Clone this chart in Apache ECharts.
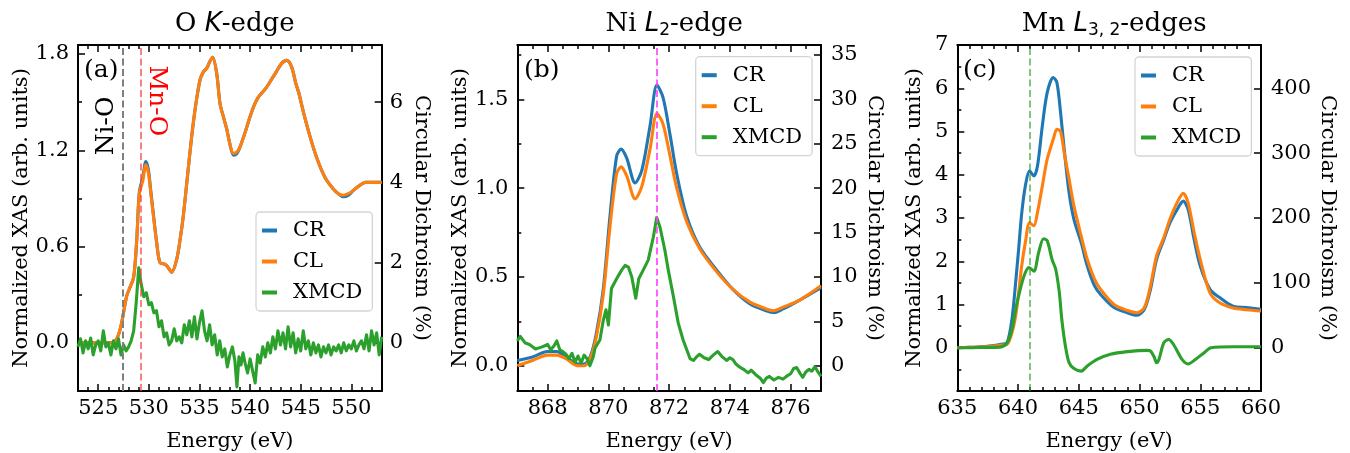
<!DOCTYPE html>
<html><head><meta charset="utf-8">
<script src="https://cdn.jsdelivr.net/npm/echarts@6/dist/echarts.min.js"></script>
<style>html,body{margin:0;padding:0;background:#fff}#c{width:1350px;height:453px}</style>
</head><body><div id="c"></div>
<script>
// ---------------- DATA ----------------
const seriesNames = ['CR', 'CL', 'XMCD'];
const panelTitles = ['O K-edge', 'Ni L2-edge', 'Mn L3,2-edges'];
const panelLetters = ['(a)', '(b)', '(c)'];

// Panel (a) O K-edge
const energyA = [523, 524, 525, 526, 526.65, 527.0, 527.3, 527.8, 528.1, 528.5, 528.8, 529.06, 529.4, 529.7, 529.95, 530.2, 530.45, 530.8, 531.1, 531.6, 531.9, 532.26, 532.75, 533.1, 533.4, 533.8, 534.2, 534.6, 535.06, 535.4, 535.7, 536.0, 536.3, 536.7, 537.03, 537.4, 537.7, 538.0, 538.35, 538.7, 539.0, 539.5, 540.0, 540.4, 540.8, 541.2, 541.6, 542.1, 542.6, 543.1, 543.6, 544.1, 544.5, 544.8, 545.3, 545.9, 546.6, 547.4, 548.2, 548.7, 549.2, 549.7, 550.2, 550.8, 551.4, 552.0, 553.0];
const crA = [0.00, 0.00, 0.00, 0.00, 0.01, 0.05, 0.12, 0.29, 0.34, 0.41, 0.64, 0.94, 1.03, 1.13, 1.08, 0.94, 0.80, 0.61, 0.50, 0.49, 0.47, 0.44, 0.52, 0.65, 0.79, 1.03, 1.27, 1.47, 1.64, 1.69, 1.71, 1.75, 1.78, 1.68, 1.49, 1.40, 1.33, 1.24, 1.17, 1.18, 1.22, 1.31, 1.41, 1.48, 1.53, 1.56, 1.59, 1.64, 1.69, 1.74, 1.76, 1.72, 1.62, 1.56, 1.43, 1.29, 1.15, 1.03, 0.96, 0.93, 0.91, 0.92, 0.95, 0.98, 1.00, 1.00, 1.00];
const clA = [0.00, 0.00, 0.00, 0.00, 0.01, 0.05, 0.12, 0.29, 0.34, 0.41, 0.64, 0.93, 1.01, 1.11, 1.06, 0.93, 0.79, 0.61, 0.50, 0.49, 0.47, 0.44, 0.52, 0.65, 0.79, 1.03, 1.27, 1.47, 1.64, 1.69, 1.71, 1.75, 1.78, 1.68, 1.49, 1.40, 1.33, 1.24, 1.18, 1.19, 1.22, 1.31, 1.41, 1.48, 1.53, 1.56, 1.59, 1.64, 1.69, 1.74, 1.76, 1.72, 1.62, 1.56, 1.43, 1.29, 1.15, 1.03, 0.96, 0.93, 0.92, 0.93, 0.95, 0.98, 1.00, 1.00, 1.00];
const xmcdA = [[523.0,-0.10],[523.25,0.10],[523.5,-0.25],[523.75,0.05],[524.0,-0.15],[524.25,0.12],[524.5,-0.30],[524.75,-0.05],[525.0,0.05],[525.25,-0.20],[525.5,0.30],[525.75,-0.10],[526.0,0.00],[526.25,-0.30],[526.5,0.05],[526.75,-0.15],[527.0,0.10],[527.25,-0.30],[527.5,-0.05],[527.75,-0.20],[528.0,-0.10],[528.25,0.05],[528.5,0.30],[528.75,1.00],[529.0,1.87],[529.25,1.45],[529.5,1.15],[529.75,1.25],[530.0,0.95],[530.25,1.00],[530.5,0.75],[530.75,0.80],[531.0,0.40],[531.25,0.55],[531.5,0.15],[531.75,0.25],[532.0,-0.05],[532.25,0.05],[532.5,0.35],[532.75,0.05],[533.0,0.15],[533.25,0.00],[533.5,0.45],[533.75,0.20],[534.0,0.55],[534.25,0.15],[534.5,0.65],[534.75,0.10],[535.0,0.50],[535.25,0.80],[535.5,0.30],[535.75,0.05],[536.0,0.45],[536.25,-0.05],[536.5,0.20],[536.75,-0.30],[537.0,0.05],[537.25,-0.35],[537.5,-0.15],[537.75,-0.60],[538.0,-0.30],[538.25,-0.10],[538.5,-0.45],[538.7,-1.10],[538.9,-0.35],[539.1,-0.55],[539.3,-0.25],[539.5,-0.50],[539.75,-0.75],[540.0,-0.40],[540.25,-0.70],[540.5,-1.00],[540.75,-0.30],[541.0,-0.50],[541.25,-0.10],[541.5,-0.35],[541.75,0.00],[542.0,-0.25],[542.25,0.15],[542.5,-0.15],[542.75,0.30],[543.0,-0.05],[543.25,0.25],[543.5,-0.15],[543.75,0.40],[544.0,-0.10],[544.25,0.25],[544.5,-0.25],[544.75,0.10],[545.0,-0.20],[545.25,0.30],[545.5,-0.15],[545.75,0.05],[546.0,-0.30],[546.25,0.00],[546.5,-0.25],[546.75,-0.05],[547.0,-0.35],[547.25,-0.10],[547.5,-0.25],[547.75,-0.05],[548.0,-0.30],[548.25,-0.10],[548.5,-0.20],[548.75,-0.05],[549.0,-0.25],[549.25,0.00],[549.5,-0.20],[549.75,-0.05],[550.0,-0.15],[550.25,0.05],[550.5,-0.20],[550.75,-0.05],[551.0,0.05],[551.25,-0.15],[551.5,0.20],[551.75,-0.20],[552.0,0.30],[552.25,-0.05],[552.5,0.25],[552.75,-0.30],[553.0,0.15]];
const xTicksA = [525, 530, 535, 540, 545, 550];
const yTicksA = [0, 0.6, 1.2, 1.8];
const rTicksA = [0, 2, 4, 6];
const vlinesA = [527.4, 529.2];
const annotA = [{text: 'Ni-O', x: 525.84, y: 1.352}, {text: 'Mn-O', x: 530.78, y: 1.508}];

// Panel (b) Ni L2-edge
const energyB = [867.0, 867.5, 868.0, 868.3, 868.6, 869.0, 869.2, 869.4, 869.6, 869.83, 870.05, 870.27, 870.42, 870.6, 870.88, 871.1, 871.37, 871.6, 871.8, 872.03, 872.25, 872.58, 873.0, 873.56, 874.1, 874.65, 875.2, 875.45, 875.75, 876.3, 877.0];
const crB = [0.03, 0.05, 0.08, 0.08, 0.05, 0.01, 0.01, 0.05, 0.18, 0.43, 0.84, 1.18, 1.22, 1.17, 1.03, 1.10, 1.35, 1.58, 1.51, 1.30, 1.08, 0.84, 0.67, 0.54, 0.43, 0.35, 0.31, 0.30, 0.32, 0.37, 0.44];
const clB = [0.00, 0.03, 0.06, 0.06, 0.04, 0.00, 0.00, 0.04, 0.16, 0.40, 0.78, 1.08, 1.12, 1.07, 0.94, 1.01, 1.22, 1.42, 1.36, 1.18, 1.00, 0.81, 0.66, 0.53, 0.43, 0.36, 0.32, 0.31, 0.33, 0.37, 0.45];
const xmcdB = [[867.0,2.8],[867.1,3.3],[867.25,2.6],[867.4,2.4],[867.6,1.9],[867.8,2.1],[868.0,2.4],[868.1,1.8],[868.2,2.2],[868.3,2.8],[868.4,1.8],[868.5,1.6],[868.6,1.3],[868.7,0.8],[868.8,1.4],[868.9,0.4],[869.0,1.1],[869.1,0.3],[869.2,1.2],[869.3,0.8],[869.39,0.0],[869.5,1.0],[869.56,2.0],[869.72,2.9],[869.83,5.1],[869.92,6.3],[870.0,4.6],[870.1,8.7],[870.27,9.8],[870.44,10.8],[870.55,11.3],[870.66,11.1],[870.77,10.0],[870.9,7.6],[871.0,9.8],[871.15,10.8],[871.31,11.9],[871.48,14.5],[871.59,16.7],[871.7,15.6],[871.86,13.0],[871.97,10.8],[872.14,7.8],[872.3,4.8],[872.46,2.9],[872.58,1.8],[872.69,0.8],[872.8,0.6],[872.9,1.0],[873.0,1.3],[873.15,0.9],[873.3,0.7],[873.45,1.2],[873.6,1.6],[873.75,1.0],[873.9,0.6],[874.0,0.9],[874.1,0.7],[874.2,0.2],[874.3,-0.1],[874.45,-0.4],[874.6,-0.8],[874.7,-0.5],[874.85,-1.0],[875.0,-1.4],[875.1,-1.9],[875.2,-1.4],[875.3,-1.2],[875.45,-1.6],[875.6,-1.3],[875.75,-1.5],[875.9,-1.1],[876.0,-0.9],[876.1,-0.3],[876.2,-0.2],[876.3,-0.8],[876.4,-1.3],[876.5,-0.7],[876.6,-0.4],[876.7,-0.6],[876.8,-0.1],[876.9,-0.7],[877.0,-1.2]];
const xTicksB = [868, 870, 872, 874, 876];
const yTicksB = [0, 0.5, 1.0, 1.5];
const rTicksB = [0, 5, 10, 15, 20, 25, 30, 35];
const vlinesB = [871.6];

// Panel (c) Mn L3,2-edges
const energyC = [635, 636, 637, 638, 638.6, 639.1, 639.5, 639.8, 640.05, 640.3, 640.6, 640.95, 641.3, 641.6, 642.0, 642.4, 642.9, 643.2, 643.5, 643.8, 644.2, 644.6, 645.2, 645.7, 646.3, 646.8, 647.9, 649.0, 649.8, 650.4, 650.9, 651.4, 652.0, 652.5, 653.1, 653.6, 654.0, 654.5, 655.0, 655.8, 656.6, 657.7, 658.8, 660];
const crC = [0.00, 0.01, 0.02, 0.05, 0.08, 0.12, 0.66, 1.50, 2.28, 3.10, 3.74, 4.09, 3.97, 4.20, 5.13, 5.90, 6.25, 6.13, 5.44, 4.59, 3.59, 2.97, 2.43, 1.89, 1.43, 1.23, 0.93, 0.81, 0.75, 0.89, 1.35, 2.04, 2.50, 2.89, 3.20, 3.39, 3.20, 2.50, 1.89, 1.35, 1.16, 0.96, 0.93, 0.89];
const clC = [0.00, 0.01, 0.02, 0.04, 0.06, 0.08, 0.35, 0.73, 1.27, 1.89, 2.43, 2.89, 2.82, 3.13, 3.74, 4.36, 4.82, 5.05, 5.00, 4.51, 3.90, 3.28, 2.58, 2.04, 1.58, 1.35, 1.00, 0.86, 0.81, 0.93, 1.43, 2.12, 2.55, 2.97, 3.36, 3.57, 3.35, 2.66, 2.04, 1.27, 1.04, 0.92, 0.88, 0.85];
const xmcdC = [[635,0],[636,0],[637,0.5],[638.5,1],[639.1,7.7],[639.5,28],[639.8,59],[640.05,80],[640.5,111],[640.9,123.6],[641.3,118],[641.7,147],[642.1,168],[642.4,165],[642.8,136],[643.1,121],[643.4,85],[643.6,44],[643.9,2.5],[644.2,-23],[644.6,-32],[645.2,-36],[645.7,-28],[646.5,-18],[647.6,-10],[649.0,-6],[650.6,-4],[650.9,-5],[651.2,-14],[651.4,-23],[651.6,-18],[652.0,7.7],[652.4,12.8],[652.8,5],[653.5,-18],[654.0,-25],[654.6,-18],[655.3,-8],[655.9,0],[657.7,1.5],[660,1.5]];
const xTicksC = [635, 640, 645, 650, 655, 660];
const yTicksC = [0, 1, 2, 3, 4, 5, 6, 7];
const rTicksC = [0, 100, 200, 300, 400];
const vlinesC = [641.0];

// ---------------- STYLE / LAYOUT ----------------
const SERIF = 'DejaVu Serif';
const FS = 21;
const LW = 3.1;
const COLORS = {CR: '#1f77b4', CL: '#ff7f0e', XMCD: '#2ca02c'};
const GTOP = 45, GW = 303.7, GH = 346;
const zip = (xs, ys) => xs.map((x, i) => [x, ys[i]]);
function minorVals(min, max, step) {
  const out = []; let k = Math.ceil(min / step - 1e-9);
  while (k * step <= max + 1e-9) { out.push(Math.round(k * step * 1000) / 1000); k++; }
  return out;
}

const panels = [
  {left: 78, xMin: 523, xMax: 553, xTicks: xTicksA, xMinor: 1, yMin: -0.3, yMax: 1.856, yTicks: yTicksA, yMinor: 0.3,
   rMin: -1.2, rMax: 7.424, rTicks: rTicksA, yFmt: v => v.toFixed(1),
   cr: zip(energyA, crA), cl: zip(energyA, clA), xm: xmcdA, xmSmooth: false,
   vlines: [{v: vlinesA[0], c: '#7f7f7f'}, {v: vlinesA[1], c: 'rgba(255,60,60,0.65)'}],
   yNameGap: 46, rNameGap: 29, rMargin: 8, yMargin: 9,
   legend: {left: 256, top: 212}, letterX: 84},
  {left: 517.3, xMin: 867, xMax: 877, xTicks: xTicksB, xMinor: 0.5, yMin: -0.142, yMax: 1.806, yTicks: yTicksB, yMinor: 0.25,
   rMin: -2.84, rMax: 36.12, rTicks: rTicksB, yFmt: v => v.toFixed(1),
   cr: zip(energyB, crB), cl: zip(energyB, clB), xm: xmcdB, xmSmooth: false,
   vlines: [{v: vlinesB[0], c: 'rgba(255,60,255,0.8)'}],
   yNameGap: 46, rNameGap: 43, rMargin: 10, yMargin: 9,
   legend: {left: 695.7, top: 56.7}, letterX: 524},
  {left: 957.3, xMin: 635, xMax: 660, xTicks: xTicksC, xMinor: 1, yMin: -1, yMax: 7, yTicks: yTicksC, yMinor: 0.5,
   rMin: -66.67, rMax: 466.67, rTicks: rTicksC, yFmt: v => String(v),
   cr: zip(energyC, crC), cl: zip(energyC, clC), xm: xmcdC, xmSmooth: 0.3,
   vlines: [{v: vlinesC[0], c: 'rgba(44,160,44,0.6)'}],
   yNameGap: 32, rNameGap: 56, rMargin: 10, yMargin: 9,
   legend: {left: 1135, top: 57}, letterX: 963}
];

const option = {animation: false, backgroundColor: '#fff', title: [], grid: [], xAxis: [], yAxis: [], legend: [], series: []};
const lab = {fontFamily: SERIF, fontSize: FS, color: '#000', fontWeight: 'normal'};
const lineS = {show: true, onZero: false, lineStyle: {color: '#000', width: 2}};
const noLine = {show: false, onZero: false};
const tickS = (vals, len) => ({show: true, inside: true, length: len, customValues: vals, lineStyle: {color: '#000', width: 1.5}});

const titleRich = {
  n: {fontFamily: SERIF, fontSize: 26, fontWeight: 'normal', color: '#000', lineHeight: 30, verticalAlign: 'middle'},
  i: {fontFamily: 'DejaVu Sans', fontStyle: 'italic', fontWeight: 'normal', fontSize: 26, color: '#000', lineHeight: 30, verticalAlign: 'middle'},
  s: {fontFamily: 'DejaVu Sans', fontSize: 17, fontWeight: 'normal', color: '#000', lineHeight: 18, verticalAlign: 'bottom'}
};
const titleTexts = ['{n|O }{i|K}{n|-edge}', '{n|Ni }{i|L}{s|2}{n|-edge}', '{n|Mn }{i|L}{s|3, 2}{n|-edges}'];

panels.forEach((p, g) => {
  option.grid.push({left: p.left, top: GTOP, width: GW, height: GH, containLabel: false, outerBoundsMode: 'none'});
  option.title.push({text: titleTexts[g], left: p.left + GW / 2, top: 4, textAlign: 'center',
    textStyle: {fontWeight: 'normal', rich: titleRich}});
  const xi = option.xAxis.length, yi = option.yAxis.length;
  const xMinorV = minorVals(p.xMin, p.xMax, p.xMinor);
  const yMinorV = minorVals(p.yMin, p.yMax, p.yMinor);
  const base = {type: 'value', gridIndex: g, splitLine: {show: false}};
  option.xAxis.push(
    Object.assign({}, base, {min: p.xMin, max: p.xMax, position: 'bottom', axisLine: lineS, axisTick: tickS(p.xTicks, 7),
      axisLabel: Object.assign({}, lab, {customValues: p.xTicks, margin: 7, showMinLabel: true, showMaxLabel: true}),
      name: 'Energy (eV)', nameLocation: 'middle', nameGap: 40, nameTextStyle: lab}),
    Object.assign({}, base, {min: p.xMin, max: p.xMax, position: 'bottom', axisLine: noLine, axisTick: tickS(xMinorV, 4), axisLabel: {show: false}}),
    Object.assign({}, base, {min: p.xMin, max: p.xMax, position: 'top', axisLine: lineS, axisTick: tickS(p.xTicks, 7), axisLabel: {show: false}}),
    Object.assign({}, base, {min: p.xMin, max: p.xMax, position: 'top', axisLine: noLine, axisTick: tickS(xMinorV, 4), axisLabel: {show: false}})
  );
  option.yAxis.push(
    Object.assign({}, base, {min: p.yMin, max: p.yMax, position: 'left', axisLine: lineS, axisTick: tickS(p.yTicks, 7),
      axisLabel: Object.assign({}, lab, {customValues: p.yTicks, margin: p.yMargin, formatter: p.yFmt, showMinLabel: true, showMaxLabel: true}),
      name: 'Normalized XAS (arb. units)', nameLocation: 'middle', nameGap: p.yNameGap, nameRotate: 90, nameTextStyle: lab}),
    Object.assign({}, base, {min: p.yMin, max: p.yMax, position: 'left', axisLine: noLine, axisTick: tickS(yMinorV, 4), axisLabel: {show: false}}),
    Object.assign({}, base, {min: p.rMin, max: p.rMax, position: 'right', axisLine: lineS, axisTick: tickS(p.rTicks, 7),
      axisLabel: Object.assign({}, lab, {customValues: p.rTicks, margin: p.rMargin, showMinLabel: true, showMaxLabel: true}),
      name: 'Circular Dichroism (%)', nameLocation: 'middle', nameGap: p.rNameGap, nameRotate: -90, nameTextStyle: lab})
  );
  const common = {type: 'line', xAxisIndex: xi, showSymbol: false, symbol: 'none', silent: true};
  option.series.push(
    Object.assign({}, common, {name: 'CR', yAxisIndex: yi, data: p.cr, z: 2, smooth: 0.3, lineStyle: {color: COLORS.CR, width: LW}, itemStyle: {color: COLORS.CR}}),
    Object.assign({}, common, {name: 'CL', yAxisIndex: yi, data: p.cl, z: 3, smooth: 0.3, lineStyle: {color: COLORS.CL, width: LW}, itemStyle: {color: COLORS.CL}}),
    Object.assign({}, common, {name: 'XMCD', yAxisIndex: yi + 2, data: p.xm, z: 4, smooth: p.xmSmooth, lineStyle: {color: COLORS.XMCD, width: LW, join: 'round'}, itemStyle: {color: COLORS.XMCD}}),
    Object.assign({}, common, {name: 'vline' + g, yAxisIndex: yi, data: [], z: 6,
      markLine: {silent: true, symbol: ['none', 'none'], animation: false, label: {show: false},
        data: p.vlines.map(v => ({xAxis: v.v, lineStyle: {color: v.c, width: 2, type: [7, 3.5]}}))}})
  );
  option.legend.push({left: p.legend.left, top: p.legend.top, orient: 'vertical', data: seriesNames, selectedMode: false,
    icon: 'rect', itemWidth: 15, itemHeight: 4, itemGap: 10, padding: [8, 10, 8, 6],
    backgroundColor: 'rgba(255,255,255,0.85)', borderColor: '#d4d4d4', borderWidth: 1.3, borderRadius: 4,
    textStyle: {fontFamily: SERIF, fontSize: FS, color: '#000', padding: [0, 0, 0, 11]}});
});

const chart = echarts.init(document.getElementById('c'), null, {renderer: 'canvas'});
chart.setOption(option);

// annotations placed via data coordinates
const graphics = [];
panels.forEach((p, g) => {
  graphics.push({type: 'text', x: p.letterX, y: 70, z: 20,
    style: {text: panelLetters[g], fontFamily: SERIF, fontSize: 25, fill: '#000', align: 'left', verticalAlign: 'middle'}});
});
const ptNi = chart.convertToPixel({xAxisIndex: 0, yAxisIndex: 0}, [annotA[0].x, annotA[0].y]);
const ptMn = chart.convertToPixel({xAxisIndex: 0, yAxisIndex: 0}, [annotA[1].x, annotA[1].y]);
graphics.push({type: 'text', x: ptNi[0], y: ptNi[1], rotation: Math.PI / 2, z: 20,
  style: {text: annotA[0].text, fontFamily: SERIF, fontSize: 25, fill: '#000', align: 'center', verticalAlign: 'middle'}});
graphics.push({type: 'text', x: ptMn[0], y: ptMn[1], rotation: -Math.PI / 2, z: 20,
  style: {text: annotA[1].text, fontFamily: SERIF, fontSize: 25, fill: '#ff0000', align: 'center', verticalAlign: 'middle'}});
chart.setOption({graphic: graphics});
</script></body></html>
